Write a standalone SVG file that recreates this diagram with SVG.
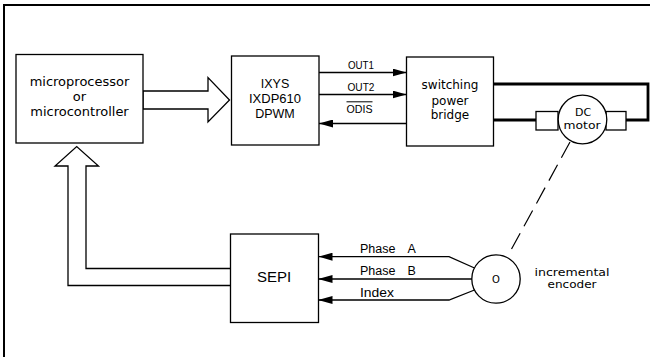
<svg xmlns="http://www.w3.org/2000/svg" width="650" height="357" viewBox="0 0 650 357">
<defs>
<style>
.box{fill:#fff;stroke:#000;stroke-width:1.3}
.ln{fill:none;stroke:#000;stroke-width:1.3}
.thick{fill:none;stroke:#000;stroke-width:2.8}
.t1{font-family:"DejaVu Sans",sans-serif;font-size:12px;fill:#000;text-anchor:middle}
.t1b{font-family:"DejaVu Sans",sans-serif;font-size:13px;fill:#000;text-anchor:middle}
.t1s{font-family:"DejaVu Sans",sans-serif;font-size:11px;fill:#000;text-anchor:middle}
.t2{font-family:"Liberation Sans",Arial,sans-serif;font-size:12.5px;fill:#000;text-anchor:middle}
.t2s{font-family:"Liberation Sans",Arial,sans-serif;font-size:11.5px;fill:#000;text-anchor:middle}
.t2b{font-family:"Liberation Sans",Arial,sans-serif;font-size:15px;fill:#000;text-anchor:middle}
.t3{font-family:"Liberation Sans",Arial,sans-serif;font-size:12.5px;fill:#000}
</style>
<marker id="ah" viewBox="0 0 14 8" refX="14" refY="4" markerWidth="14" markerHeight="8" markerUnits="userSpaceOnUse" orient="auto">
<path d="M0,0 L14,4 L0,8 Z" fill="#000"/>
</marker>
</defs>
<rect width="650" height="357" fill="#fff"/>
<path d="M4,357 V5 H650" fill="none" stroke="#000" stroke-width="2"/>

<g id="connectors">
<polygon class="box" points="143,91 208,91 208,77.5 229.5,100 208,122 208,109 143,109"/>
<polyline class="ln" points="230,268.5 86,268.5 86,166 98.5,166 76.7,146.5 55,166 68,166 68,285.5 230,285.5"/>
<line class="ln" x1="319" y1="72.5" x2="406.5" y2="72.5" marker-end="url(#ah)"/>
<line class="ln" x1="319" y1="94.5" x2="406.5" y2="94.5" marker-end="url(#ah)"/>
<line class="ln" x1="406.5" y1="123.5" x2="319" y2="123.5" marker-end="url(#ah)"/>
<text class="t2s" x="361" y="68.5" textLength="26" lengthAdjust="spacingAndGlyphs">OUT1</text>
<text class="t2s" x="361" y="90.5" textLength="27" lengthAdjust="spacingAndGlyphs">OUT2</text>
<text class="t2s" x="359.5" y="112.7" textLength="26" lengthAdjust="spacingAndGlyphs">ODIS</text>
<line x1="346.5" y1="101.8" x2="372.5" y2="101.8" stroke="#000" stroke-width="1"/>
<path class="thick" d="M493.5,84 H648 V120 H626"/>
<path class="thick" d="M493.5,120 H536"/>
<line x1="570" y1="142" x2="508.3" y2="255" stroke="#000" stroke-width="1.2" stroke-dasharray="18 8"/>
<polyline class="ln" points="474.5,268 449,256.7 318.5,256.7" marker-end="url(#ah)"/>
<line class="ln" x1="472" y1="279" x2="318.5" y2="279" marker-end="url(#ah)"/>
<polyline class="ln" points="474.5,290 449,300 318.5,300" marker-end="url(#ah)"/>
<text class="t3" x="360" y="252.7">Phase<tspan x="407.5">A</tspan></text>
<text class="t3" x="360" y="275">Phase<tspan x="407.5">B</tspan></text>
<text class="t3" x="360" y="296.7" textLength="34" lengthAdjust="spacingAndGlyphs">Index</text>
</g>

<g id="micro">
<rect class="box" x="16" y="54.5" width="127" height="88.5"/>
<text class="t1b" x="79.5" y="86">microprocessor</text>
<text class="t1b" x="79.5" y="101">or</text>
<text class="t1b" x="79.5" y="116">microcontroller</text>
</g>

<g id="dpwm">
<rect class="box" x="231.5" y="56" width="87.5" height="89"/>
<text class="t2" x="275" y="88">IXYS</text>
<text class="t2" x="275" y="103" textLength="52" lengthAdjust="spacingAndGlyphs">IXDP610</text>
<text class="t2" x="275" y="118">DPWM</text>
</g>

<g id="bridge">
<rect class="box" x="406.5" y="57" width="87" height="89"/>
<text class="t1" x="450" y="89">switching</text>
<text class="t1" x="450" y="104.5">power</text>
<text class="t1" x="450" y="119">bridge</text>
</g>

<g id="motor">
<rect class="box" x="536" y="111.5" width="22" height="18.5"/>
<rect class="box" x="606" y="111.5" width="20" height="18.5"/>
<circle class="box" cx="582.5" cy="119.5" r="24.3"/>
<text class="t1s" x="583" y="116.2">DC</text>
<text class="t1s" x="582" y="128.5" textLength="37" lengthAdjust="spacingAndGlyphs">motor</text>
</g>

<g id="sepi">
<rect class="box" x="230.5" y="234" width="88" height="88.5"/>
<text class="t2b" x="274" y="281.7">SEPI</text>
</g>

<g id="encoder">
<circle class="box" cx="496" cy="279" r="24.2"/>
<text class="t1s" x="496" y="282.8" style="font-size:10px">O</text>
<text class="t1s" x="572" y="276" textLength="75" lengthAdjust="spacingAndGlyphs">incremental</text>
<text class="t1s" x="572" y="288.3" textLength="49" lengthAdjust="spacingAndGlyphs">encoder</text>
</g>
</svg>
